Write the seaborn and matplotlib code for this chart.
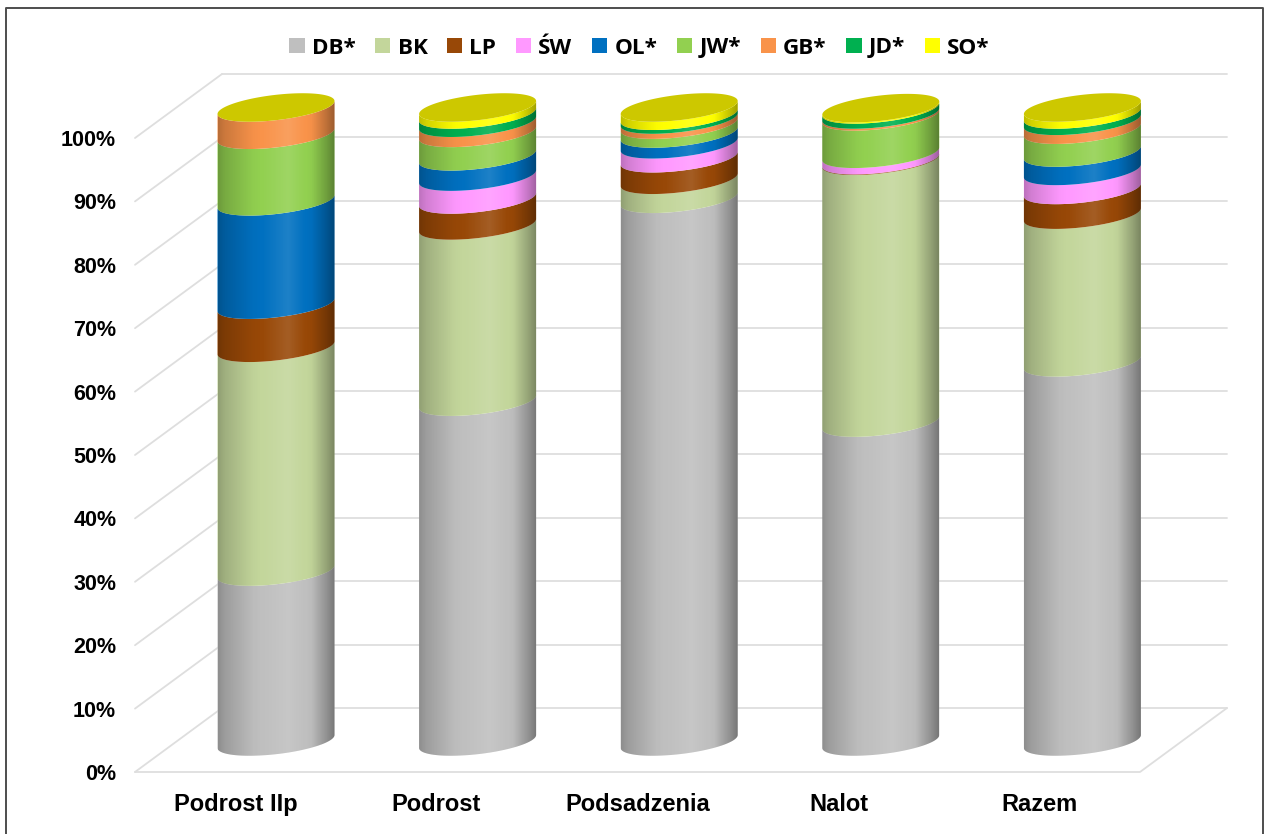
import numpy as np
import pandas as pd
import matplotlib
matplotlib.use("Agg")
import matplotlib.pyplot as plt
from matplotlib.lines import Line2D
from matplotlib.patches import PathPatch, Patch
from matplotlib.path import Path
import seaborn as sns

# Share of each species per regeneration type, in percent
categories = ["Podrost IIp", "Podrost", "Podsadzenia", "Nalot", "Razem"]
DB = [26.8, 53.6, 85.6, 50.3, 59.8]
BK = [35.3, 27.8, 3.0, 41.3, 23.3]
LP = [6.8, 4.1, 3.4, 0.1, 3.9]
SW = [0.0, 3.6, 2.2, 1.0, 3.0]
OL = [16.3, 3.2, 1.7, 0.0, 2.9]
JW = [10.5, 3.7, 1.4, 5.9, 3.6]
GB = [4.3, 1.6, 0.8, 0.3, 1.4]
JD = [0.0, 1.3, 0.6, 0.8, 1.0]
SO = [0.0, 1.1, 1.3, 0.2, 1.1]

species = {"DB*": DB, "BK": BK, "LP": LP, "ŚW": SW, "OL*": OL,
           "JW*": JW, "GB*": GB, "JD*": JD, "SO*": SO}
palette = ["#BFBFBF", "#C3D69B", "#984807", "#FF99FF", "#0070C0",
           "#92D050", "#F9934A", "#00B050", "#FFFF00"]
y_ticks = list(range(0, 101, 10))

# Pixel geometry of the box and of the cylinders
W, H = 1266, 834
X0, X1, Y0, Y100 = 135, 1140, 772, 138
px_x = (X1 - X0) / 5.0        # pixels per category
px_y = (Y0 - Y100) / 100.0    # pixels per percent
depth_x, depth_y = 87 / px_x, 64 / px_y      # box depth
cyl_dx, cyl_dy = 40.5 / px_x, 30.5 / px_y    # cylinder axis offset from the front plane
cyl_step = 201.6 / px_x       # spacing of the cylinder axes
half_w = 58.5 / px_x
tilt = 6.5 / px_y
minor = 12.7 / px_y

sns.set_theme(style="white")
fig = plt.figure(figsize=(W / 100, H / 100), dpi=100, facecolor="white")
ax = fig.add_axes([X0 / W, 1 - Y0 / H, (X1 - X0) / W, (Y0 - Y100) / H])

# Stacked bars supply the segment geometry for the cylinders
df = pd.DataFrame(species, index=categories).rename_axis("typ").reset_index()
bottom = np.zeros(len(categories))
for name, colour in zip(species, palette):
    sns.barplot(data=df, x="typ", y=name, color=colour, saturation=1,
                bottom=bottom, errorbar=None, width=0.6, ax=ax)
    bottom = bottom + df[name].to_numpy()
bars = list(ax.patches)
n_cat = len(categories)

ax.set_xlim(-0.5, 4.5)
ax.set_ylim(0, 100)
for s in ax.spines.values():
    s.set_visible(False)
ax.set_facecolor("none")
ax.set_xlabel("")
ax.set_ylabel("")
ax.set_yticks(y_ticks)
ax.set_yticklabels([f"{t}%" for t in y_ticks], fontfamily="Liberation Sans",
                   fontweight="bold", fontsize=15.5, color="black")
ax.set_xticks(range(n_cat))
ax.set_xticklabels(categories, fontfamily="Liberation Sans",
                   fontweight="bold", fontsize=17, color="black")
ax.tick_params(axis="y", length=0, pad=13.5)
ax.tick_params(axis="x", length=0, pad=15)

# Box: back wall, side wall and floor lines
grid_kw = dict(color="#DEDEDE", lw=1.3, clip_on=False, zorder=1)
left, right = -0.5, 4.5
for t in y_ticks:
    ax.plot([left + depth_x, right + depth_x], [t + depth_y] * 2, **grid_kw)
    ax.plot([left, left + depth_x], [t, t + depth_y], **grid_kw)
ax.plot([left, right, right + depth_x], [0, 0, depth_y], **grid_kw)


def lower_arc(cx, level, n=80):
    t = np.linspace(np.pi, 2 * np.pi, n)
    return cx + half_w * np.cos(t), level + tilt * np.cos(t) + minor * np.sin(t)


def band_path(cx, low, high):
    xa, ya = lower_arc(cx, low)
    xb, yb = lower_arc(cx, high)
    pts = np.column_stack([np.r_[xa, xb[::-1]], np.r_[ya, yb[::-1]]])
    return Path(np.vstack([pts, pts[0]]), closed=True)


# Horizontal light falloff across a cylinder
u = np.linspace(0, 1, 256)
light = np.interp(u, [0, 0.06, 0.3, 0.6, 0.8, 0.93, 1],
                  [0.74, 0.82, 0.98, 1.06, 0.98, 0.76, 0.62])
shade = np.zeros((1, u.size, 4))
shade[0, :, 3] = np.where(light < 1, 1 - light, (light - 1) * 2.0)
shade[0, :, :3] = np.where(light[:, None] < 1, 0.0, 1.0)

# Each bar becomes a curved cylinder segment
for bar_index, bar in enumerate(bars):
    bar.set_visible(False)
    h = bar.get_height()
    if h <= 0:
        continue
    k = bar_index % n_cat
    cx = k * cyl_step + cyl_dx
    low = bar.get_y() + cyl_dy
    ax.add_patch(PathPatch(band_path(cx, low, low + h), facecolor=bar.get_facecolor(),
                           edgecolor="none", clip_on=False, zorder=3))

for k in range(n_cat):
    cx = k * cyl_step + cyl_dx
    top = sum(vals[k] for vals in species.values()) + cyl_dy
    base = cyl_dy
    silhouette = PathPatch(band_path(cx, base, top), facecolor="none",
                           edgecolor="none", clip_on=False)
    ax.add_patch(silhouette)
    im = ax.imshow(shade, extent=[cx - half_w, cx + half_w, base - 4, top + 4],
                   aspect="auto", interpolation="bilinear", zorder=4)
    im.set_clip_box(fig.bbox)
    im.set_clip_path(silhouette)
    # Flat cap closing the cylinder
    t = np.linspace(0, 2 * np.pi, 160)
    cap = np.column_stack([cx + half_w * np.cos(t),
                           top + tilt * np.cos(t) + minor * np.sin(t)])
    ax.add_patch(PathPatch(Path(cap, closed=True), facecolor="#CDC800",
                           edgecolor="none", clip_on=False, zorder=5))

ax.set_xlim(-0.5, 4.5)
ax.set_ylim(0, 100)

# Legend row above the plot
handles = [Patch(facecolor=c, edgecolor="none") for c in palette]
fig.legend(handles, list(species), ncol=len(handles), loc="center",
           bbox_to_anchor=(639.5 / W, 1 - 48 / H), frameon=False,
           prop=dict(family="Open Sans", weight="bold", size=16.2),
           handlelength=0.67, handleheight=0.67, handletextpad=0.32,
           columnspacing=0.88, labelcolor="black")

# Chart area frame, open at the bottom edge
fig.add_artist(Line2D([x / W for x in (6, 6, 1263, 1263)],
                      [1 - y / H for y in (H, 8, 8, H)],
                      transform=fig.transFigure, color="#4D4D4D", lw=1.4))

fig.savefig("out.png", dpi=100, facecolor="white")
